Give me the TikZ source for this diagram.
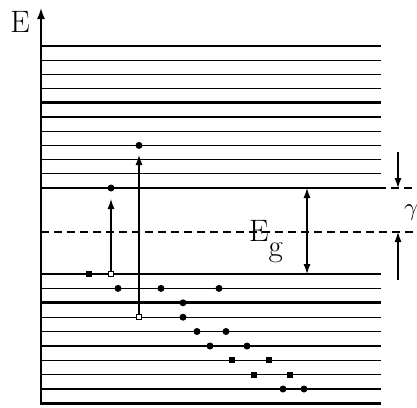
\documentclass[tikz,border=0pt]{standalone}
\usetikzlibrary{arrows.meta}
\begin{document}
\begin{tikzpicture}[x=1pt,y=-1pt,
  lvl/.style={line width=1.3pt},
  thk/.style={line width=2.8pt},
  dot/.style={circle,fill,inner sep=0pt,minimum size=7pt},
  sq/.style={rectangle,fill,inner sep=0pt,minimum size=6pt},
  osq/.style={rectangle,draw,fill=white,line width=1pt,inner sep=0pt,minimum size=5.5pt},
  tip/.style={-{Latex[length=10pt,width=7pt]}},
  arr/.style={line width=1.2pt,tip},
  dsh/.style={line width=1.3pt,dash pattern=on 8pt off 5pt},
  big/.style={font=\fontsize{31}{31}\selectfont,inner sep=0pt}]
\useasboundingbox (0,0) rectangle (417,407);
\clip (0,0) rectangle (417,407);
% upper levels
\foreach \y in {46,60.2,74.4,88.6,117,131.2,145.4,159.6,173.8}
  \draw[lvl] (41,\y) -- (381,\y);
\draw[lvl] (41,188) -- (386,188);
\draw[thk] (41,102.8) -- (381,102.8);
% lower levels
\foreach \y in {274,288.4,317.2,331.5,346,360.2,374.6,389}
  \draw[lvl] (41,\y) -- (381,\y);
\draw[thk] (41,302.8) -- (381,302.8);
\draw[thk] (41,403.4) -- (381,403.4);
% dashed lines
\draw[dsh] (41,232) -- (417,232);
\draw[dsh] (391,188) -- (417,188);
% axis
\coordinate (ax0) at (41,404.5);
\coordinate (ax1) at (41,8);
\draw[line width=1.6pt,-{Latex[length=11pt,width=8pt]}] (ax0) -- (ax1);
\node[big,anchor=base] (E) at (20,32) {E};
% Eg
\coordinate (g1) at (307,188);
\coordinate (g2) at (307,274);
\draw[line width=1.2pt,{Latex[length=10pt,width=7pt]}-{Latex[length=10pt,width=7pt]}] (g1) -- (g2);
\node[big,anchor=base west] (Eg) at (249,241) {E\raisebox{-15pt}{g}};
% gamma
\coordinate (c1) at (398,152);
\coordinate (c2) at (398,188);
\coordinate (c3) at (398,280);
\coordinate (c4) at (398,232);
\draw[arr] (c1) -- (c2);
\draw[arr] (c3) -- (c4);
\node[big,anchor=base west] (gam) at (404,215) {$\gamma$};
% transitions
\node[dot] (t1) at (111,188) {};
\node[dot] (t2) at (139,145.4) {};
\coordinate (h1) at (111,199);
\coordinate (h2) at (139,155);
\node[osq] (o1) at (111,274) {};
\node[osq] (o2) at (139,317.2) {};
\draw[arr] (o1) -- (h1);
\draw[arr] (o2) -- (h2);
% electrons
\node[sq] (s1) at (89,274) {};
\node[dot] (d1) at (118,288.4) {};
\node[dot] (d2) at (161,288.4) {};
\node[dot] (d3) at (219,288.4) {};
\node[dot] (d4) at (183,302.8) {};
\node[dot] (d5) at (183,317.2) {};
\node[dot] (d6) at (197,331.5) {};
\node[dot] (d7) at (226,331.5) {};
\node[dot] (d8) at (210,346) {};
\node[dot] (d9) at (247,346) {};
\node[sq] (d10) at (232,360.2) {};
\node[sq] (d11) at (269,360.2) {};
\node[sq] (d12) at (254,374.6) {};
\node[sq] (d13) at (290,374.6) {};
\node[dot] (d14) at (283,389) {};
\node[dot] (d15) at (304,389) {};
\end{tikzpicture}
\end{document}
